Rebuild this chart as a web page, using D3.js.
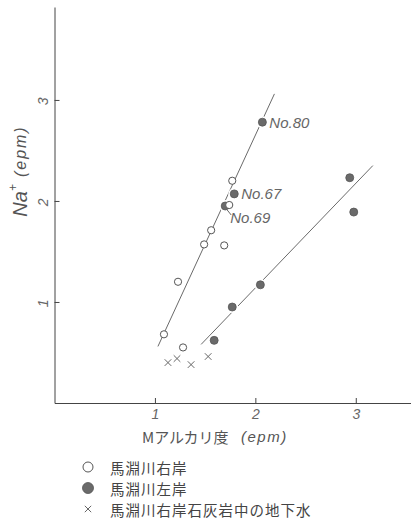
<!DOCTYPE html>
<html>
<head>
<meta charset="utf-8">
<script src="https://cdn.jsdelivr.net/npm/d3@7"></script>
<style>
  html, body { margin: 0; padding: 0; background: #fff; }
  svg { display: block; }
</style>
</head>
<body>
<script>
// ---- data ----
const xTicks = [1, 2, 3];
const yTicks = [1, 2, 3];
// 馬淵川右岸 (open circles)
const rightBankX = [1.77, 1.74, 1.56, 1.49, 1.69, 1.23, 1.09, 1.28];
const rightBankY = [2.20, 1.96, 1.71, 1.57, 1.56, 1.20, 0.68, 0.55];
// 馬淵川左岸 (filled circles)
const leftBankX = [2.07, 1.79, 1.70, 2.94, 2.98, 2.05, 1.77, 1.59];
const leftBankY = [2.78, 2.07, 1.95, 2.23, 1.89, 1.17, 0.95, 0.62];
// 馬淵川右岸石灰岩中の地下水 (crosses)
const groundX = [1.13, 1.22, 1.36, 1.53];
const groundY = [0.40, 0.44, 0.38, 0.46];
// trend lines [x1, y1, x2, y2]
const trendRight = [1.03, 0.56, 2.19, 3.06];
const trendLeft = [1.46, 0.58, 3.17, 2.35];
// point labels
const labelNames = ["No.80", "No.67", "No.69"];
const labelX = [2.07, 1.79, 1.70];
const labelY = [2.78, 2.07, 1.95];
const legendLabels = ["馬淵川右岸", "馬淵川左岸", "馬淵川右岸石灰岩中の地下水"];
const xTitle = "Mアルカリ度";
const yTitle = "Na";
const unit = "(epm)";

// ---- drawing ----
const W = 411, H = 522;
const svg = d3.select("body").append("svg").attr("width", W).attr("height", H);
const font = "'Liberation Sans', 'DejaVu Sans', sans-serif";
const jfont = "'Noto Sans CJK JP', sans-serif";

const x = d3.scaleLinear().domain([0, 3.55]).range([54.5, 411]);
const y = d3.scaleLinear().domain([0, 3.92]).range([403, 7]);

// axes
const xAxis = svg.append("g").attr("transform", `translate(0,${y(0)})`)
  .call(d3.axisBottom(x).tickValues(xTicks).tickSizeInner(-5).tickSizeOuter(0).tickPadding(6).tickFormat(d3.format("d")));
const yAxis = svg.append("g").attr("transform", `translate(${x(0)},0)`)
  .call(d3.axisLeft(y).tickValues(yTicks).tickSizeInner(-5).tickSizeOuter(0).tickFormat(d3.format("d")));
[xAxis, yAxis].forEach(a => {
  a.select(".domain").attr("stroke", "#444").attr("stroke-width", 1);
  a.selectAll(".tick line").attr("stroke", "#444");
  a.selectAll("text").attr("fill", "#666").style("font-family", font)
    .style("font-style", "italic").style("font-size", "14px");
});
yAxis.selectAll(".tick text")
  .attr("x", null).attr("dy", null)
  .attr("text-anchor", "middle").attr("dominant-baseline", "central")
  .attr("transform", "translate(-12,1) rotate(-90)");

// trend lines
[trendRight, trendLeft].forEach(t => {
  svg.append("line")
    .attr("x1", x(t[0])).attr("y1", y(t[1]))
    .attr("x2", x(t[2])).attr("y2", y(t[3]))
    .attr("stroke", "#6a6a6a").attr("stroke-width", 1);
});

// crosses
const cs = 3.3;
groundX.forEach((gx, i) => {
  const cx = x(gx), cy = y(groundY[i]);
  svg.append("path")
    .attr("d", `M${cx-cs},${cy-cs}L${cx+cs},${cy+cs}M${cx-cs},${cy+cs}L${cx+cs},${cy-cs}`)
    .attr("stroke", "#666").attr("stroke-width", 1).attr("fill", "none");
});

// filled circles (white halo to break line)
leftBankX.forEach((lx, i) => {
  svg.append("circle").attr("cx", x(lx)).attr("cy", y(leftBankY[i])).attr("r", 6)
    .attr("fill", "#fff");
});
leftBankX.forEach((lx, i) => {
  svg.append("circle").attr("cx", x(lx)).attr("cy", y(leftBankY[i])).attr("r", 4)
    .attr("fill", "#6a6a6a").attr("stroke", "#555").attr("stroke-width", 0.8);
});
// open circles
rightBankX.forEach((rx, i) => {
  svg.append("circle").attr("cx", x(rx)).attr("cy", y(rightBankY[i])).attr("r", 3.6)
    .attr("fill", "#fff").attr("stroke", "#555").attr("stroke-width", 1);
});

// point labels
labelNames.forEach((name, i) => {
  const px = x(labelX[i]), py = y(labelY[i]);
  let tx = px + 7, ty = py;
  if (name === "No.69") {
    svg.append("line").attr("x1", px + 2).attr("y1", py + 4).attr("x2", px + 6).attr("y2", py + 9)
      .attr("stroke", "#666").attr("stroke-width", 1);
    tx = px + 5; ty = py + 11;
  }
  svg.append("text").attr("x", tx).attr("y", ty).attr("dominant-baseline", "central")
    .attr("fill", "#666").style("font-family", font).style("font-style", "italic")
    .style("font-size", "15px").text(name);
});

// x title
svg.append("text").attr("x", 142).attr("y", 436)
  .attr("dominant-baseline", "central").attr("fill", "#555")
  .style("font-family", jfont).style("font-size", "15px").text(xTitle);
svg.append("text").attr("x", 241).attr("y", 436)
  .attr("dominant-baseline", "central").attr("fill", "#555")
  .style("font-family", font).style("font-style", "italic").style("font-size", "15px")
  .style("letter-spacing", "1.5px").text(unit);

// y title
const yt = svg.append("text").attr("transform", "translate(20,171) rotate(-90)")
  .attr("text-anchor", "middle").attr("dominant-baseline", "central")
  .attr("fill", "#555").style("font-family", font).style("font-style", "italic");
yt.append("tspan").style("font-size", "20px").text(yTitle);
yt.append("tspan").attr("baseline-shift", "super").style("font-size", "12px").text("+");
yt.append("tspan").attr("dx", 7).style("font-size", "16px").style("letter-spacing", "2px").text(unit);

// legend
const legY = [467, 488, 509];
legendLabels.forEach((lab, i) => {
  const ly = legY[i];
  if (i === 0) {
    svg.append("circle").attr("cx", 88).attr("cy", ly).attr("r", 5)
      .attr("fill", "#fff").attr("stroke", "#555").attr("stroke-width", 1);
  } else if (i === 1) {
    svg.append("circle").attr("cx", 88).attr("cy", ly).attr("r", 5.5)
      .attr("fill", "#6a6a6a").attr("stroke", "#555").attr("stroke-width", 0.8);
  } else {
    const s = 3.2;
    svg.append("path")
      .attr("d", `M${88-s},${ly-s}L${88+s},${ly+s}M${88-s},${ly+s}L${88+s},${ly-s}`)
      .attr("stroke", "#666").attr("stroke-width", 1);
  }
  svg.append("text").attr("x", 110).attr("y", ly).attr("dominant-baseline", "central")
    .attr("fill", "#444").style("font-family", jfont).style("font-size", "14.5px")
    .style("letter-spacing", "1px").text(lab);
});
</script>
</body>
</html>
